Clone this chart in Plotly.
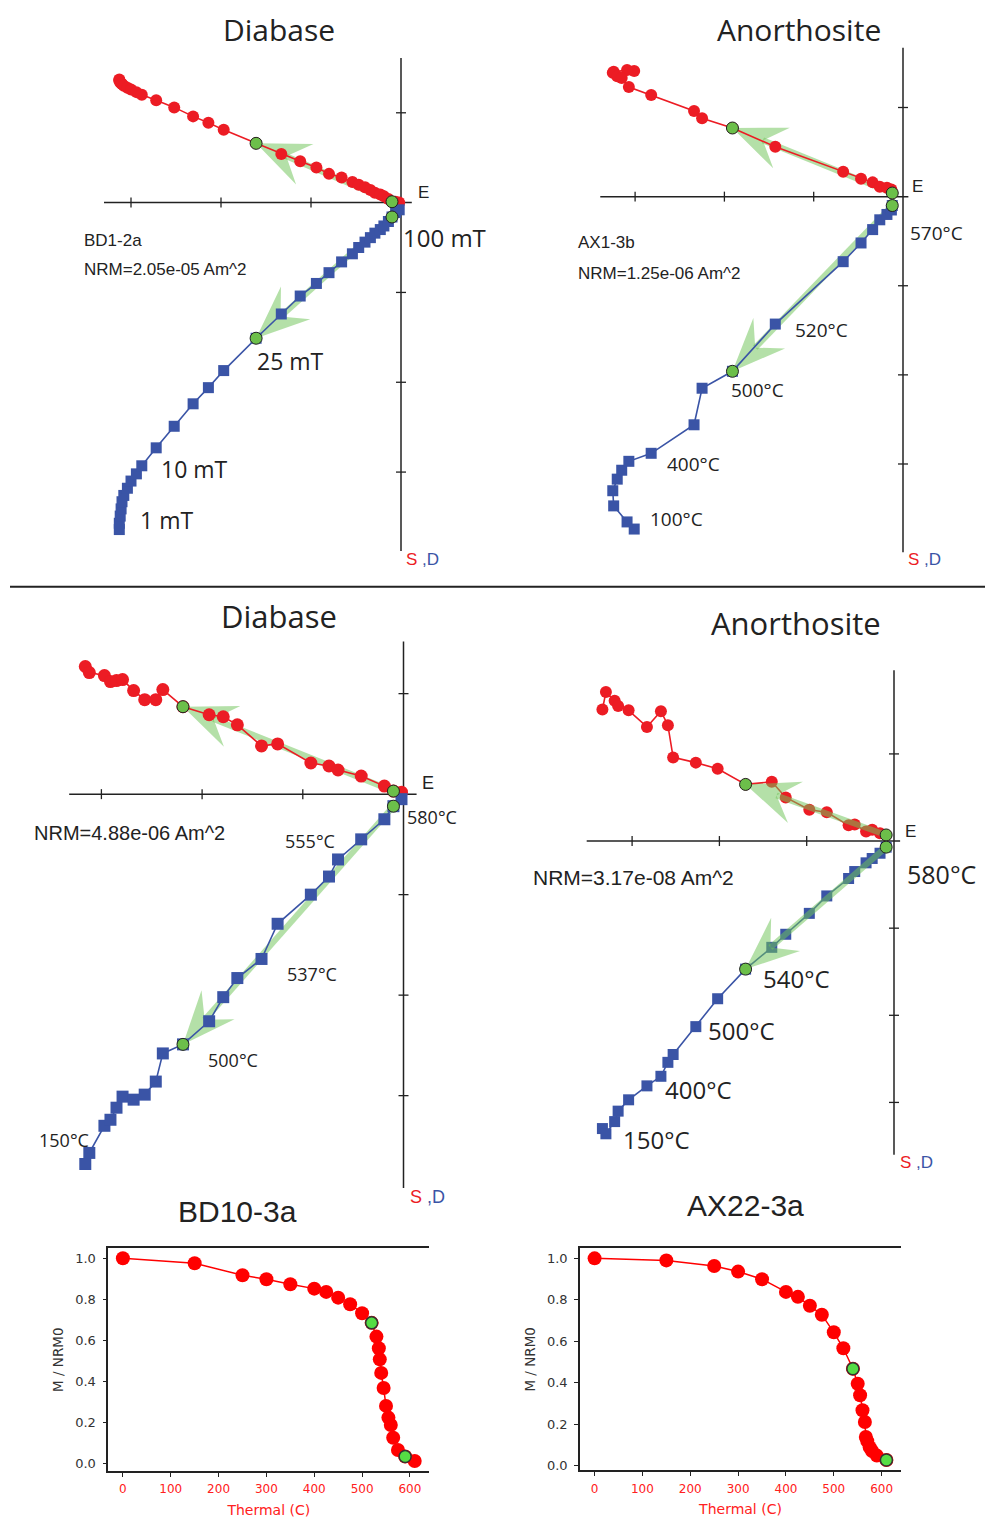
import math
import plotly.graph_objects as go

# page body has an 8px margin: figure is drawn 8px in from the window edge
OFF = 8
W, H = 993 - OFF, 1521 - OFF

# ---------------- data (Zijderveld: shared horizontal component, red = horizontal plane, blue = vertical plane)
# Panel 1: Diabase BD1-2a (AF)
p1_x = [-3.13, -3.13, -3.12, -3.11, -3.10, -3.08, -3.04, -3.00, -2.94, -2.88, -2.72, -2.52, -2.31, -2.14, -1.97, -1.61,
        -1.33, -1.12, -0.94, -0.80, -0.66, -0.54, -0.47, -0.40, -0.34, -0.29, -0.23, -0.19, -0.14, -0.10, -0.06, -0.02]
p1_red = [1.37, 1.36, 1.34, 1.33, 1.32, 1.30, 1.28, 1.26, 1.23, 1.20, 1.14, 1.06, 0.96, 0.89, 0.81, 0.66,
          0.54, 0.46, 0.39, 0.32, 0.28, 0.23, 0.20, 0.17, 0.14, 0.11, 0.09, 0.07, 0.04, 0.01, 0.01, 0.00]
p1_blue = [-3.64, -3.57, -3.49, -3.41, -3.33, -3.26, -3.18, -3.10, -3.02, -2.93, -2.73, -2.49, -2.24, -2.06, -1.87, -1.51,
           -1.24, -1.04, -0.90, -0.78, -0.66, -0.57, -0.50, -0.44, -0.39, -0.34, -0.30, -0.26, -0.21, -0.16, -0.11, -0.08]
p1_fit = (15, 29)

# Panel 2: Anorthosite AX1-3b (thermal)
p2_x = [-3.01, -3.09, -3.24, -3.25, -3.20, -3.15, -3.07, -2.82, -2.34, -2.25, -1.91, -1.43, -0.67, -0.47, -0.34,
        -0.26, -0.18, -0.13, -0.12]
p2_red = [1.41, 1.42, 1.40, 1.39, 1.35, 1.33, 1.23, 1.14, 0.96, 0.88, 0.77, 0.56, 0.28, 0.20, 0.16, 0.11, 0.10, 0.08, 0.04]
p2_blue = [-3.73, -3.65, -3.47, -3.30, -3.17, -3.07, -2.97, -2.88, -2.56, -2.15, -1.96, -1.43, -0.73, -0.52, -0.37,
           -0.26, -0.20, -0.15, -0.10]
p2_fit = (10, 18)

# Panel 3: Diabase BD10-3a (thermal)
p3_x = [-3.16, -3.12, -2.97, -2.91, -2.85, -2.79, -2.68, -2.57, -2.46, -2.39, -2.19, -1.93, -1.79, -1.65, -1.41, -1.25,
        -0.92, -0.74, -0.65, -0.42, -0.19, -0.10, -0.02]
p3_red = [1.27, 1.21, 1.18, 1.12, 1.13, 1.14, 1.03, 0.94, 0.94, 1.04, 0.87, 0.79, 0.77, 0.69, 0.48, 0.50,
          0.31, 0.28, 0.24, 0.18, 0.08, 0.03, 0.02]
p3_blue = [-3.68, -3.57, -3.30, -3.24, -3.12, -3.01, -3.04, -2.99, -2.86, -2.58, -2.49, -2.26, -2.02, -1.83, -1.64, -1.29,
           -1.00, -0.82, -0.65, -0.45, -0.25, -0.12, -0.05]
p3_fit = (10, 21)

# Panel 4: Anorthosite AX22-3a (thermal)
p4_x = [-3.34, -3.30, -3.20, -3.16, -3.04, -2.83, -2.67, -2.59, -2.53, -2.27, -2.02, -1.70, -1.40, -1.24, -0.97, -0.77,
        -0.52, -0.45, -0.32, -0.25, -0.16, -0.09]
p4_red = [1.51, 1.71, 1.61, 1.55, 1.50, 1.31, 1.49, 1.33, 0.96, 0.90, 0.83, 0.65, 0.68, 0.50, 0.36, 0.33,
          0.18, 0.19, 0.11, 0.13, 0.09, 0.07]
p4_blue = [-3.30, -3.36, -3.22, -3.10, -2.97, -2.81, -2.70, -2.54, -2.45, -2.13, -1.81, -1.47, -1.22, -1.07, -0.83, -0.63,
           -0.43, -0.35, -0.25, -0.20, -0.14, -0.07]
p4_fit = (11, 21)

# Demagnetisation curves
bd_temp = [0, 150, 250, 300, 350, 400, 425, 450, 475, 500, 520, 530, 535, 537, 540, 545, 550, 555, 560, 565, 575, 590, 610]
bd_m = [1.0, 0.976, 0.917, 0.898, 0.873, 0.852, 0.836, 0.808, 0.776, 0.732, 0.685, 0.618, 0.561, 0.507, 0.441, 0.367,
        0.280, 0.223, 0.187, 0.125, 0.065, 0.033, 0.011]
bd_green = [520, 590]
ax_temp = [0, 150, 250, 300, 350, 400, 425, 450, 475, 500, 520, 540, 550, 555, 560, 565, 567, 570, 575, 580, 590, 610]
ax_m = [1.0, 0.990, 0.963, 0.936, 0.899, 0.838, 0.814, 0.771, 0.728, 0.643, 0.566, 0.467, 0.395, 0.339, 0.267, 0.210,
        0.138, 0.118, 0.088, 0.070, 0.048, 0.027]
ax_green = [540, 610]

temp_ticks = [0, 100, 200, 300, 400, 500, 600]
m_ticks = [0.0, 0.2, 0.4, 0.6, 0.8, 1.0]

# ---------------- styles
RED = '#ec1c24'
BLUE = '#3a54a6'
GREEN = '#6cbf4a'
ARROWC = 'rgba(112,196,88,0.52)'
INK = '#222222'

fig = go.Figure()

panels = [
    dict(x=p1_x, r=p1_red, b=p1_blue, fit=p1_fit, ox=401, oy=203, s=90.0, h=(-3.30, 0.12), v=(1.61, -3.88),
         ms=12, fit_on_top=False),
    dict(x=p2_x, r=p2_red, b=p2_blue, fit=p2_fit, ox=903, oy=197, s=89.3, h=(-3.39, 0.06), v=(1.67, -3.99),
         ms=12, fit_on_top=False),
    dict(x=p3_x, r=p3_red, b=p3_blue, fit=p3_fit, ox=403.5, oy=795.7, s=100.7, h=(-3.32, 0.13), v=(1.52, -3.92),
         ms=13, fit_on_top=False),
    dict(x=p4_x, r=p4_red, b=p4_blue, fit=p4_fit, ox=894, oy=842.7, s=87.3, h=(-3.52, 0.07), v=(1.96, -3.60),
         ms=12, fit_on_top=True),
]

HEAD_L, HEAD_W, NOTCH = 53.0, 22.0, 0.62


def arrow_traces(xs, ys, i0, i1, s, xa, ya):
    tx, ty = xs[i0], ys[i0]
    ex, ey = xs[i1], ys[i1]
    dx, dy = tx - ex, ty - ey
    n = math.hypot(dx, dy)
    dx, dy = dx / n, dy / n
    L, Wd = HEAD_L / s, HEAD_W / s
    bx, by = tx - dx * L, ty - dy * L
    px_, py_ = -dy * Wd, dx * Wd
    nx, ny = tx - dx * L * NOTCH, ty - dy * L * NOTCH
    head = go.Scatter(x=[tx, bx + px_, nx, bx - px_, tx], y=[ty, by + py_, ny, by - py_, ty],
                      mode='lines', fill='toself', fillcolor=ARROWC, line=dict(width=0),
                      hoverinfo='skip', xaxis=xa, yaxis=ya, showlegend=False)
    shaft = go.Scatter(x=[nx, ex], y=[ny, ey], mode='lines', line=dict(color=ARROWC, width=6),
                       hoverinfo='skip', xaxis=xa, yaxis=ya, showlegend=False)
    return [shaft, head]


for k, p in enumerate(panels, start=1):
    xa = 'x' if k == 1 else f'x{k}'
    ya = 'y' if k == 1 else f'y{k}'
    ox, oy, s = p['ox'] - OFF, p['oy'] - OFF, p['s']
    fig.update_layout(**{
        ('xaxis' if k == 1 else f'xaxis{k}'): dict(domain=[0, 1], range=[-ox / s, (W - ox) / s], visible=False,
                                                  anchor=ya, fixedrange=True),
        ('yaxis' if k == 1 else f'yaxis{k}'): dict(domain=[0, 1], range=[(oy - H) / s, oy / s], visible=False,
                                                  anchor=xa, fixedrange=True),
    })
    # cross axes
    fig.add_shape(type='line', xref=xa, yref=ya, x0=p['h'][0], x1=p['h'][1], y0=0, y1=0,
                  line=dict(color=INK, width=1.5), layer='below')
    fig.add_shape(type='line', xref=xa, yref=ya, x0=0, x1=0, y0=p['v'][0], y1=p['v'][1],
                  line=dict(color=INK, width=1.5), layer='below')
    t = 5.0 / s
    for xv in range(-3, 0):
        fig.add_shape(type='line', xref=xa, yref=ya, x0=xv, x1=xv, y0=-t, y1=t,
                      line=dict(color=INK, width=1.3), layer='below')
    for yv in [1, -1, -2, -3]:
        fig.add_shape(type='line', xref=xa, yref=ya, x0=-t, x1=t, y0=yv, y1=yv,
                      line=dict(color=INK, width=1.3), layer='below')

    i0, i1 = p['fit']
    fit_tr = arrow_traces(p['x'], p['r'], i0, i1, s, xa, ya) + arrow_traces(p['x'], p['b'], i0, i1, s, xa, ya)
    if not p['fit_on_top']:
        for tr in fit_tr:
            fig.add_trace(tr)
    fig.add_trace(go.Scatter(x=p['x'], y=p['r'], mode='lines+markers', xaxis=xa, yaxis=ya, showlegend=False,
                             line=dict(color=RED, width=1.6),
                             marker=dict(symbol='circle', size=p['ms'], color=RED, line=dict(width=0))))
    fig.add_trace(go.Scatter(x=p['x'], y=p['b'], mode='lines+markers', xaxis=xa, yaxis=ya, showlegend=False,
                             line=dict(color=BLUE, width=1.6),
                             marker=dict(symbol='square', size=p['ms'] - 1, color=BLUE, line=dict(width=0))))
    if p['fit_on_top']:
        for tr in fit_tr:
            fig.add_trace(tr)
    gx = [p['x'][i0], p['x'][i1], p['x'][i0], p['x'][i1]]
    gy = [p['r'][i0], p['r'][i1], p['b'][i0], p['b'][i1]]
    fig.add_trace(go.Scatter(x=gx, y=gy, mode='markers', xaxis=xa, yaxis=ya, showlegend=False,
                             marker=dict(symbol='circle', size=12, color=GREEN, line=dict(color=INK, width=1))))


# ---------------- demag curves
def pd(px0, px1, py0, py1):
    return [(px0 - OFF) / W, (px1 - OFF) / W], [1 - (py1 - OFF) / H, 1 - (py0 - OFF) / H]


for k, (temps, ms, greens, box, yr) in zip(
        [5, 6],
        [(bd_temp, bd_m, bd_green, (108.3, 429.3, 1250.7, 1474.0), (-0.038, 1.049)),
         (ax_temp, ax_m, ax_green, (580.0, 901.0, 1250.7, 1473.3), (-0.0235, 1.0487))]):
    xd, yd = pd(*box)
    fig.update_layout(**{
        f'xaxis{k}': dict(domain=xd, range=[-30.5, 640.5], anchor=f'y{k}', showline=True, linecolor=INK, linewidth=1.6,
                          mirror=True, ticks='outside', ticklen=4, tickwidth=1.2, tickcolor=INK, tickvals=temp_ticks,
                          tickfont=dict(family='DejaVu Sans', size=12, color='#ff2020'), showgrid=False, zeroline=False,
                          ticklabelstandoff=2,
                          title=dict(text='Thermal (C)', font=dict(family='DejaVu Sans', size=14, color='#ff2020'),
                                     standoff=10), fixedrange=True),
        f'yaxis{k}': dict(domain=yd, range=list(yr), anchor=f'x{k}', showline=True, linecolor=INK, linewidth=1.6,
                          mirror=False, ticks='outside', ticklen=4, tickwidth=1.2, tickcolor=INK, tickvals=m_ticks,
                          ticktext=[f'{v:.1f}' for v in m_ticks], ticklabelstandoff=4,
                          tickfont=dict(family='DejaVu Sans', size=13, color='#333333'), showgrid=False,
                          zeroline=False,
                          title=dict(text='M / NRM0', font=dict(family='DejaVu Sans', size=13.5, color='#333333'),
                                     standoff=8), fixedrange=True),
    })
    fig.add_trace(go.Scatter(x=temps, y=ms, mode='lines+markers', xaxis=f'x{k}', yaxis=f'y{k}', showlegend=False,
                             line=dict(color='#ff0000', width=1.5),
                             marker=dict(size=14, color='#ff0000', line=dict(width=0))))
    gxs = [t for t in temps if t in greens]
    gys = [m for t, m in zip(temps, ms) if t in greens]
    fig.add_trace(go.Scatter(x=gxs, y=gys, mode='markers', xaxis=f'x{k}', yaxis=f'y{k}', showlegend=False,
                             marker=dict(size=12, color='#55dd44', line=dict(color='#333333', width=1.5))))


# ---------------- text
def txt(s, px, py, size, family='Open Sans', anchor='left', color=INK, yanchor='middle'):
    fig.add_annotation(text=s, x=(px - OFF) / W, y=1 - (py - OFF) / H, xref='paper', yref='paper', xanchor=anchor,
                       yanchor=yanchor, showarrow=False, borderpad=0,
                       font=dict(size=size, family=family, color=color))


SD = f'<span style="color:{RED}">S</span><span style="color:{BLUE}"> ,D</span>'

# titles (top row anchored to the page top so the text box stays inside)
txt('Diabase', 279, OFF, 30, anchor='center', yanchor='top')
txt('Anorthosite', 799, OFF, 30, anchor='center', yanchor='top')
txt('Diabase', 279, 617, 31, anchor='center')
txt('Anorthosite', 796, 624, 31, anchor='center')
txt('BD10-3a', 237, 1214, 30, family='Liberation Sans', anchor='center')
txt('AX22-3a', 745, 1208, 30, family='Liberation Sans', anchor='center')

# panel 1
txt('BD1-2a', 83, 241, 17, family='Liberation Sans')
txt('NRM=2.05e-05 Am^2', 83, 270, 17, family='Liberation Sans')
txt('E', 417, 193, 17, family='Liberation Sans')
txt(SD, 405, 561, 17, family='Liberation Sans')
txt('100 mT', 402, 238, 24)
txt('25 mT', 256, 362, 23)
txt('10 mT', 160, 470, 23)
txt('1 mT', 139, 521, 23)

# panel 2
txt('AX1-3b', 577, 243, 17, family='Liberation Sans')
txt('NRM=1.25e-06 Am^2', 577, 274, 17, family='Liberation Sans')
txt('E', 911, 187, 17, family='Liberation Sans')
txt(SD, 907, 561, 17, family='Liberation Sans')
txt('570°C', 909, 233, 19)
txt('520°C', 794, 331, 19)
txt('500°C', 730, 391, 19)
txt('400°C', 666, 465, 19)
txt('100°C', 649, 520, 19)

# panel 3
txt('NRM=4.88e-06 Am^2', 33, 835, 20, family='Liberation Sans')
txt('E', 421, 785, 18, family='Liberation Sans')
txt(SD, 409, 1199, 18, family='Liberation Sans')
txt('580°C', 406, 819, 18)
txt('555°C', 284, 843, 18)
txt('537°C', 286, 976, 18)
txt('500°C', 207, 1062, 18)
txt('150°C', 38, 1142, 18)

# panel 4
txt('NRM=3.17e-08 Am^2', 532, 879, 21, family='Liberation Sans')
txt('E', 904, 833, 17, family='Liberation Sans')
txt(SD, 899, 1165, 17, family='Liberation Sans')
txt('580°C', 906, 876, 25)
txt('540°C', 762, 980, 24)
txt('500°C', 707, 1033, 24)
txt('400°C', 664, 1092, 24)
txt('150°C', 622, 1142, 24)

# separator line
fig.add_shape(type='line', xref='paper', yref='paper', x0=(10 - OFF) / W, x1=1,
              y0=1 - (588 - OFF) / H, y1=1 - (588 - OFF) / H, line=dict(color=INK, width=2))

fig.update_layout(width=W, height=H, margin=dict(l=0, r=0, t=0, b=0), paper_bgcolor='white',
                  plot_bgcolor='rgba(0,0,0,0)', showlegend=False, hovermode=False)

fig.write_html('out.html')
